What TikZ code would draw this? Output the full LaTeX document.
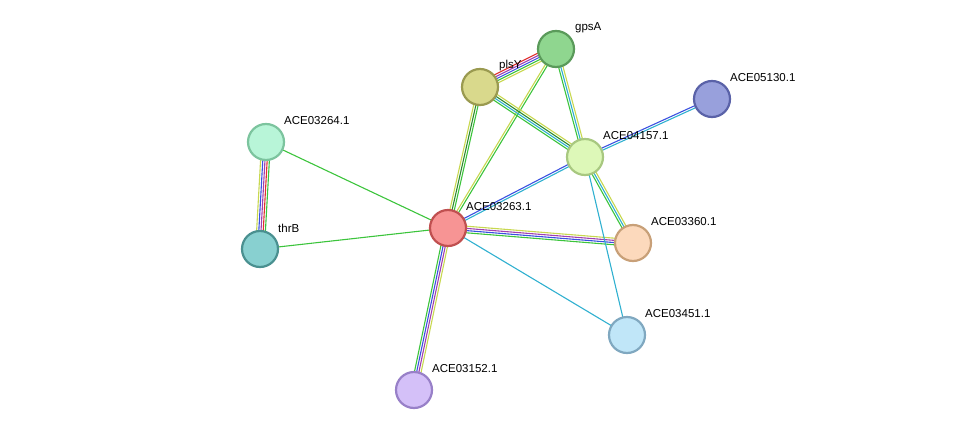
\documentclass[tikz,border=0pt]{standalone}
\usepackage{fontspec}
\setmainfont{Liberation Sans}
\usetikzlibrary{calc,backgrounds}
\definecolor{eG}{HTML}{3CC43C}
\definecolor{eD}{HTML}{2E8B2E}
\definecolor{eY}{HTML}{C8D850}
\definecolor{eB}{HTML}{3A50E0}
\definecolor{eP}{HTML}{A040B0}
\definecolor{eR}{HTML}{E03030}
\definecolor{eC}{HTML}{30B0D0}
\tikzset{
	prot/.style={circle, minimum size=36pt, inner sep=0pt, line width=2.2pt},
	lbl/.style={anchor=west, inner sep=0pt, font=\fontsize{11.5}{13}\selectfont},
}
% multi-coloured edge: #1,#2 nodes, #3 colour list, #4 number of lines
\newcommand{\edge}[4]{%
	\foreach \c [count=\i] in {#3} {
		\pgfmathsetmacro{\off}{(\i-(#4+1)/2)*2.2}
		\draw[\c, line width=1.1pt] ($(#1.center)!\off pt!90:(#2.center)$) -- ($(#2.center)!\off pt!-90:(#1.center)$);
	}}
\begin{document}
\begin{tikzpicture}[x=1pt,y=-1pt]
	\useasboundingbox (0,0) rectangle (976,436);
	\node[prot, fill={rgb,255:red,143;green,214;blue,143}, draw={rgb,255:red,90;green,154;blue,90}] (gpsA) at (556,49) {};
	\node[prot, fill={rgb,255:red,217;green,217;blue,140}, draw={rgb,255:red,154;green,154;blue,80}] (plsY) at (480,87) {};
	\node[prot, fill={rgb,255:red,152;green,160;blue,220}, draw={rgb,255:red,90;green,98;blue,168}] (ace05130) at (712,99) {};
	\node[prot, fill={rgb,255:red,184;green,245;blue,216}, draw={rgb,255:red,124;green,196;blue,158}] (ace03264) at (266,142) {};
	\node[prot, fill={rgb,255:red,221;green,248;blue,184}, draw={rgb,255:red,168;green,200;blue,128}] (ace04157) at (585,157) {};
	\node[prot, fill={rgb,255:red,247;green,148;blue,148}, draw={rgb,255:red,192;green,80;blue,80}] (ace03263) at (448,228) {};
	\node[prot, fill={rgb,255:red,136;green,208;blue,208}, draw={rgb,255:red,74;green,144;blue,144}] (thrB) at (260,249) {};
	\node[prot, fill={rgb,255:red,252;green,217;blue,188}, draw={rgb,255:red,200;green,160;blue,120}] (ace03360) at (633,243) {};
	\node[prot, fill={rgb,255:red,192;green,230;blue,248}, draw={rgb,255:red,128;green,168;blue,192}] (ace03451) at (627,335) {};
	\node[prot, fill={rgb,255:red,212;green,192;blue,248}, draw={rgb,255:red,152;green,128;blue,200}] (ace03152) at (414,390) {};
	% labels
	\node[lbl] (tgpsA) at ([shift={(19,-21)}]gpsA.center) {gpsA};
	\node[lbl] (tplsY) at ([shift={(19,-21)}]plsY.center) {plsY};
	\node[lbl] (t05130) at ([shift={(18,-21)}]ace05130.center) {ACE05130.1};
	\node[lbl] (t03264) at ([shift={(18,-21)}]ace03264.center) {ACE03264.1};
	\node[lbl] (t04157) at ([shift={(18,-21)}]ace04157.center) {ACE04157.1};
	\node[lbl] (t03263) at ([shift={(18,-21)}]ace03263.center) {ACE03263.1};
	\node[lbl] (tthrB) at ([shift={(18,-21)}]thrB.center) {thrB};
	\node[lbl] (t03360) at ([shift={(18,-21)}]ace03360.center) {ACE03360.1};
	\node[lbl] (t03451) at ([shift={(18,-21)}]ace03451.center) {ACE03451.1};
	\node[lbl] (t03152) at ([shift={(18,-21)}]ace03152.center) {ACE03152.1};
	\begin{scope}[on background layer]
		\edge{ace03264}{thrB}{eY,eB,eP,eR,eG}{5}
		\edge{ace03264}{ace03263}{eG}{1}
		\edge{thrB}{ace03263}{eG}{1}
		\edge{ace03263}{plsY}{eG,eD,eY}{3}
		\edge{ace03263}{gpsA}{eG,eY}{2}
		\edge{ace03263}{ace04157}{eC,eB}{2}
		\edge{ace03263}{ace03360}{eG,eB,eP,eY}{4}
		\edge{ace03263}{ace03451}{eC}{1}
		\edge{ace03263}{ace03152}{eG,eB,eP,eY}{4}
		\edge{plsY}{gpsA}{eY,eG,eB,eP,eR}{5}
		\edge{plsY}{ace04157}{eG,eC,eD,eY}{4}
		\edge{gpsA}{ace04157}{eG,eC,eY}{3}
		\edge{ace04157}{ace05130}{eC,eB}{2}
		\edge{ace04157}{ace03360}{eG,eC,eY}{3}
		\edge{ace04157}{ace03451}{eC}{1}
	\end{scope}
\end{tikzpicture}
\end{document}
